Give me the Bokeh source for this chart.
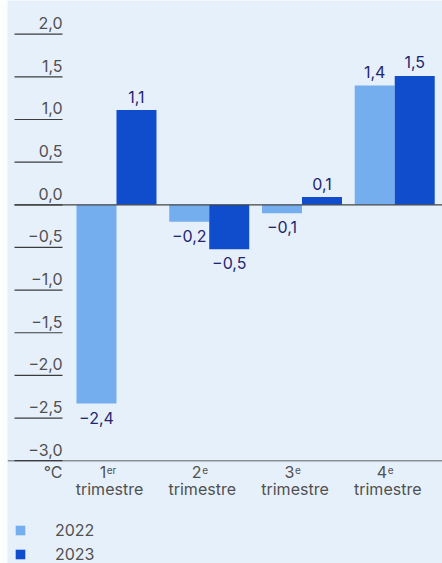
from bokeh.plotting import figure
from bokeh.models import Range1d, Legend, LegendItem
from bokeh.core.properties import value
from bokeh.embed import file_html
from bokeh.resources import INLINE

# ---- data ----
quarters_num = ["1", "2", "3", "4"]
quarters_sup = ["er", "e", "e", "e"]
quarter_word = "trimestre"
series_names = ["2022", "2023"]
values_2022 = [-2.33, -0.20, -0.10, 1.40]
values_2023 = [1.11, -0.52, 0.09, 1.51]
labels_2022 = ["−2,4", "−0,2", "−0,1", "1,4"]
labels_2023 = ["1,1", "−0,5", "0,1", "1,5"]
y_ticks = [2.0, 1.5, 1.0, 0.5, 0.0, -0.5, -1.0, -1.5, -2.0, -2.5, -3.0]
y_tick_labels = ["2,0", "1,5", "1,0", "0,5", "0,0", "−0,5", "−1,0", "−1,5", "−2,0", "−2,5", "−3,0"]
unit_label = "°C"

# ---- style ----
BG = "#e6f0fb"
C22 = "#74aeef"
C23 = "#104dcc"
LBL = "#1f2670"
GRAY = "#505050"
FONT = "Inter"
W, H = 442, 563
LEFT = 7
FW = W - LEFT

x_start, x_end = -1.175, 3.515
y_start, y_end = -4.205, 2.395
px_per_x = FW / (x_end - x_start)
tick_x0 = x_start + 7 / px_per_x
tick_x1 = x_start + 55 / px_per_x
bw = 40 / px_per_x

p = figure(width=W, height=H, output_backend="svg", toolbar_location=None,
           x_range=Range1d(x_start, x_end), y_range=Range1d(y_start, y_end),
           min_border=0, min_border_left=LEFT, background_fill_color=BG,
           border_fill_color="#fbfdff", outline_line_color=None)
p.axis.visible = False
p.grid.visible = False

idx = list(range(len(quarters_num)))
x22 = [i - bw / 2 for i in idx]
x23 = [i + bw / 2 for i in idx]

r22 = p.vbar(x=x22, top=values_2022, bottom=0, width=bw, color=C22, line_color=None)
r23 = p.vbar(x=x23, top=values_2023, bottom=0, width=bw, color=C23, line_color=None)

# zero line and bottom axis line
p.segment(x0=[tick_x0], x1=[x_end], y0=[0], y1=[0], line_color="#444444", line_width=1.3)
p.segment(x0=[x_start], x1=[x_end], y0=[y_ticks[-1]], y1=[y_ticks[-1]],
          line_color="#8a8f96", line_width=1.5)

# y tick marks and labels
p.segment(x0=[tick_x0] * len(y_ticks), x1=[tick_x1] * len(y_ticks), y0=y_ticks, y1=y_ticks,
          line_color="#3c3c3c", line_width=1.2)
p.text(x=[tick_x1] * len(y_ticks), y=y_ticks, text=y_tick_labels, text_align="right",
       text_baseline="middle", y_offset=-11, text_color=GRAY,
       text_font=value(FONT), text_font_size="16px")

# value labels
def lab(xs, vals, texts):
    pos = [(x, v, t) for x, v, t in zip(xs, vals, texts) if v >= 0]
    neg = [(x, v, t) for x, v, t in zip(xs, vals, texts) if v < 0]
    if pos:
        p.text(x=[a[0] for a in pos], y=[a[1] for a in pos], text=[a[2] for a in pos],
               text_align="center", text_baseline="middle", y_offset=-13.5,
               text_color=LBL, text_font=value(FONT), text_font_size="16px")
    if neg:
        p.text(x=[a[0] for a in neg], y=[a[1] for a in neg], text=[a[2] for a in neg],
               text_align="center", text_baseline="top", y_offset=8,
               text_color=LBL, text_font=value(FONT), text_font_size="16px")

lab(x22, values_2022, labels_2022)
lab(x23, values_2023, labels_2023)

# category labels
ybase = y_ticks[-1]
for i, (n, s) in enumerate(zip(quarters_num, quarters_sup)):
    xo = -7 - 2.6 * len(s) + 2
    p.text(x=[i], y=[ybase], text=[n], text_align="right", text_baseline="middle",
           x_offset=xo, y_offset=11, text_color=GRAY, text_font=value(FONT), text_font_size="16px")
    p.text(x=[i], y=[ybase], text=[s], text_align="left", text_baseline="middle",
           x_offset=xo + 0.5, y_offset=9.5, text_color=GRAY, text_font=value(FONT), text_font_size="10px")
p.text(x=idx, y=[ybase] * len(idx), text=[quarter_word] * len(idx), text_align="center",
       text_baseline="middle", x_offset=-7, y_offset=28.5, text_color=GRAY,
       text_font=value(FONT), text_font_size="16px")
p.text(x=[tick_x1], y=[ybase], text=[unit_label], text_align="right", text_baseline="middle",
       y_offset=11, text_color=GRAY, text_font=value(FONT), text_font_size="16px")

legend = Legend(items=[LegendItem(label=series_names[0], renderers=[r22]),
                       LegendItem(label=series_names[1], renderers=[r23])],
                location=(7, -1), orientation="vertical",
                background_fill_alpha=0, border_line_color=None,
                glyph_width=12, glyph_height=12, label_standoff=29, spacing=4,
                padding=0, margin=0, label_text_font=FONT, label_text_font_size="16px",
                label_text_color=GRAY, label_height=20)
p.add_layout(legend, "center")

open("out.html", "w").write(file_html(p, INLINE))
